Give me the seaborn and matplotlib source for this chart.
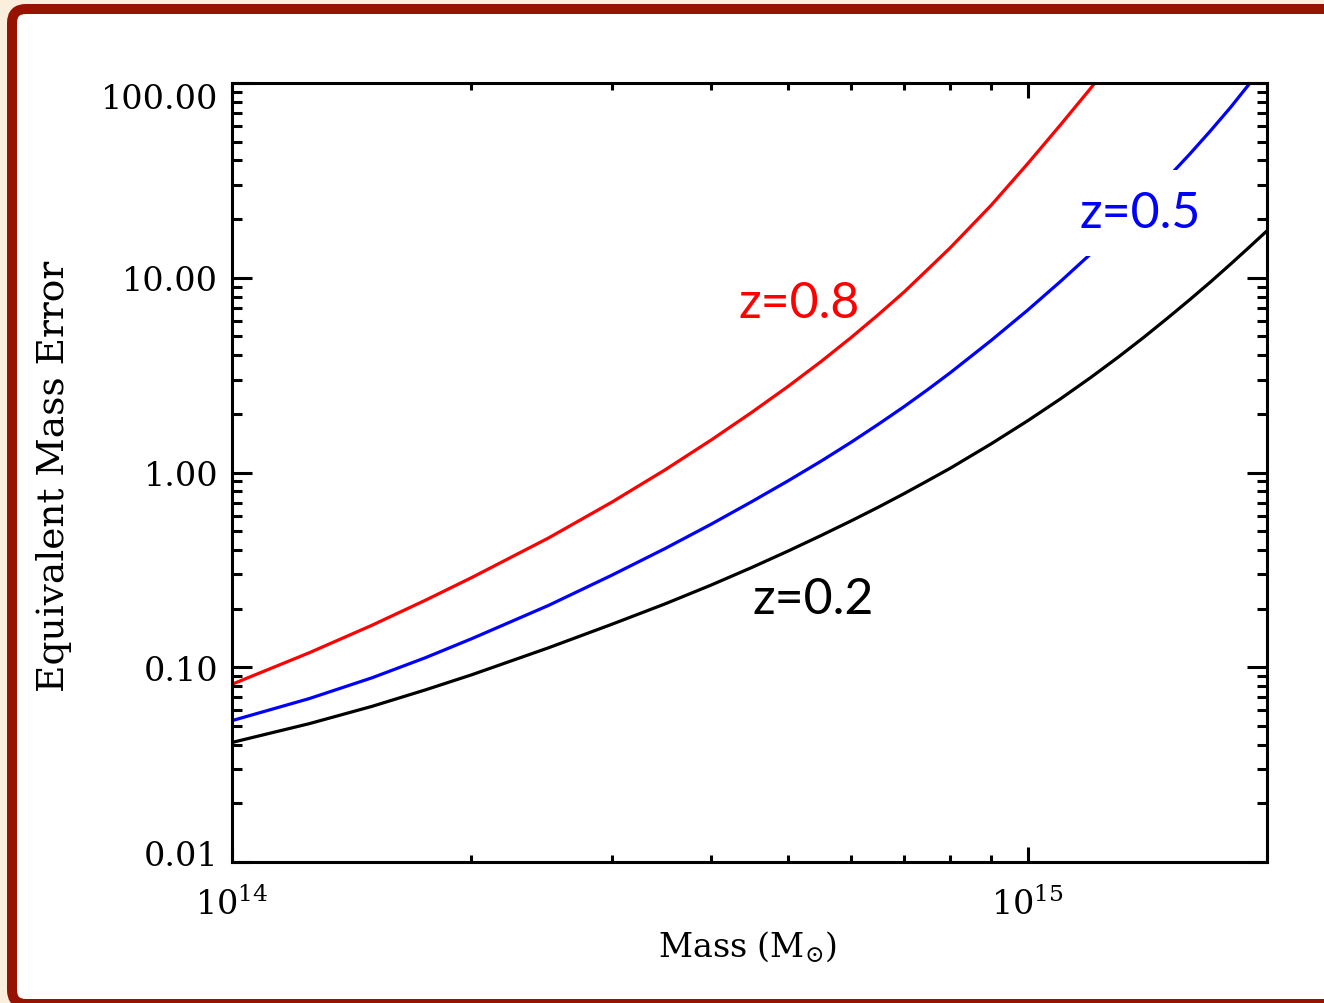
import numpy as np
import pandas as pd
import matplotlib
matplotlib.use("Agg")
import matplotlib.pyplot as plt
import seaborn as sns
from matplotlib.patches import FancyBboxPatch
from matplotlib.transforms import IdentityTransform, ScaledTranslation
from matplotlib.ticker import FixedLocator, FixedFormatter, LogLocator, NullFormatter, FuncFormatter

# ---------------- data ----------------
# masses in units of 1e14 solar masses
mass_z08 = [1.0, 1.25, 1.5, 1.75, 2.0, 2.5, 3.0, 3.5, 4.0, 4.5, 5.0, 5.5, 6.0, 6.5, 7.0,
            7.5, 8.0, 9.0, 10.0, 11.0, 12.0, 12.2]
err_z08 = [0.0818, 0.1186, 0.1644, 0.2208, 0.2884, 0.4613, 0.703, 1.030, 1.466, 2.035,
           2.767, 3.711, 4.93, 6.49, 8.47, 11.09, 14.29, 23.55, 38.46, 60.95, 93.76, 102.3]

mass_z05 = [1.0, 1.25, 1.5, 1.75, 2.0, 2.5, 3.0, 3.5, 4.0, 4.5, 5.0, 5.5, 6.0, 6.5, 7.0,
            7.5, 8.0, 9.0, 10.0, 11.0, 12.0, 13.0, 14.0, 15.0, 16.0, 17.0, 18.0, 19.0, 19.5]
err_z05 = [0.0532, 0.0690, 0.0883, 0.1119, 0.140, 0.2078, 0.2965, 0.4064, 0.542, 0.7079,
           0.906, 1.143, 1.429, 1.774, 2.183, 2.675, 3.258, 4.764, 6.81, 9.57, 13.24,
           18.07, 24.38, 32.6, 43.25, 57.1, 75.0, 98.9, 112.7]

mass_z02 = [1.0, 1.25, 1.5, 1.75, 2.0, 2.5, 3.0, 3.5, 4.0, 4.5, 5.0, 5.5, 6.0, 6.5, 7.0,
            7.5, 8.0, 9.0, 10.0, 11.0, 12.0, 13.0, 14.0, 15.0, 16.0, 17.0, 18.0, 19.0, 20.0]
err_z02 = [0.0411, 0.0513, 0.0630, 0.0765, 0.0914, 0.1259, 0.166, 0.2113, 0.264, 0.3251,
           0.395, 0.4745, 0.564, 0.665, 0.780, 0.910, 1.053, 1.403, 1.841, 2.388, 3.069,
           3.91, 4.943, 6.21, 7.727, 9.55, 11.75, 14.36, 17.42]

mass_unit = 1e14
series_names = ["z=0.8", "z=0.5", "z=0.2"]
series_colors = ["#ff0000", "#0000ff", "#000000"]

ytick_values = [0.01, 0.1, 1.0, 10.0, 100.0]
ytick_labels = ["0.01", "0.10", "1.00", "10.00", "100.00"]
xtick_values = [1e14, 1e15]

x_label = r"Mass (M$_{\odot}$)"
y_label = "Equivalent Mass Error"

# ---------------- style ----------------
sns.set_theme(style="white")
plt.rcParams["font.family"] = ["DejaVu Serif"]
plt.rcParams["mathtext.fontset"] = "dejavuserif"

W, H, DPI = 1324, 1004, 100
fig = plt.figure(figsize=(W / DPI, H / DPI), dpi=DPI)
fig.patch.set_facecolor("#f9efdc")

# framed slide background (pixel coordinates)
frame = FancyBboxPatch((12, -1), W + 40, 995,
                       boxstyle="round,pad=0,rounding_size=14",
                       transform=IdentityTransform(),
                       facecolor="white", edgecolor="#951300", linewidth=7.2, zorder=-10)
fig.add_artist(frame)

ax = fig.add_axes([232 / W, 1 - 863 / H, (1267 - 232) / W, (863 - 84) / H])
ax.set_facecolor("white")

frames = []
for name, m, e in [("z=0.8", mass_z08, err_z08), ("z=0.5", mass_z05, err_z05),
                   ("z=0.2", mass_z02, err_z02)]:
    frames.append(pd.DataFrame({"mass": np.asarray(m) * mass_unit, "err": e, "series": name}))
df = pd.concat(frames, ignore_index=True)

sns.lineplot(data=df, x="mass", y="err", hue="series", hue_order=series_names,
             palette=series_colors, linewidth=2.3, legend=False, ax=ax, sort=True,
             estimator=None)

ax.set_xscale("log")
ax.set_yscale("log")
ax.set_xlim(1e14, 2e15)
ax.set_ylim(0.01, 100)

ax.yaxis.set_major_locator(FixedLocator(ytick_values))
ax.yaxis.set_major_formatter(FixedFormatter(ytick_labels))
ax.yaxis.set_minor_locator(LogLocator(base=10, subs=np.arange(2, 10), numticks=100))
ax.yaxis.set_minor_formatter(NullFormatter())

ax.xaxis.set_major_locator(FixedLocator(xtick_values))
ax.xaxis.set_major_formatter(FuncFormatter(lambda v, p: r"$10^{%d}$" % int(round(np.log10(v)))))
ax.xaxis.set_minor_locator(LogLocator(base=10, subs=np.arange(2, 10), numticks=100))
ax.xaxis.set_minor_formatter(NullFormatter())

for sp in ax.spines.values():
    sp.set_visible(True)
    sp.set_color("black")
    sp.set_linewidth(2.2)

ax.tick_params(which="both", direction="in", top=True, right=True, bottom=True, left=True,
               colors="black", width=2.2)
ax.tick_params(axis="y", which="major", length=14.4, pad=10, labelsize=24)
ax.tick_params(axis="y", which="minor", length=7.2)
ax.tick_params(axis="x", which="major", length=10.8, pad=18, labelsize=24)
ax.tick_params(axis="x", which="minor", length=5.0)

ax.set_ylabel(y_label, fontsize=27, color="black")
ax.yaxis.set_label_coords(-0.1546, 0.4968)
ax.set_xlabel(x_label, fontsize=24, color="black")
ax.xaxis.set_label_coords(0.4986, -0.085)

# curve labels
label_font = ["Lato", "DejaVu Sans"]
ax.text(5.16e14, 6.31, "z=0.8", color=series_colors[0], fontsize=36, family=label_font,
        ha="center", va="baseline", zorder=5)
ax.text(1.387e15, 18.2, "z=0.5", color=series_colors[1], fontsize=36, family=label_font,
        ha="center", va="baseline", zorder=5,
        bbox=dict(boxstyle="square,pad=0.4", facecolor="white", edgecolor="none"))
ax.text(5.38e14, 0.191, "z=0.2", color=series_colors[2], fontsize=36, family=label_font,
        ha="center", va="baseline", zorder=5)

# IDL-style: end labels nudged inward
fig.canvas.draw()
yticks = ax.yaxis.get_major_ticks()
yticks[0].label1.set_transform(yticks[0].label1.get_transform()
                               + ScaledTranslation(0, 9 / DPI, fig.dpi_scale_trans))
yticks[-1].label1.set_transform(yticks[-1].label1.get_transform()
                                + ScaledTranslation(0, -12 / DPI, fig.dpi_scale_trans))

fig.savefig("out.png", dpi=DPI, facecolor=fig.get_facecolor())
